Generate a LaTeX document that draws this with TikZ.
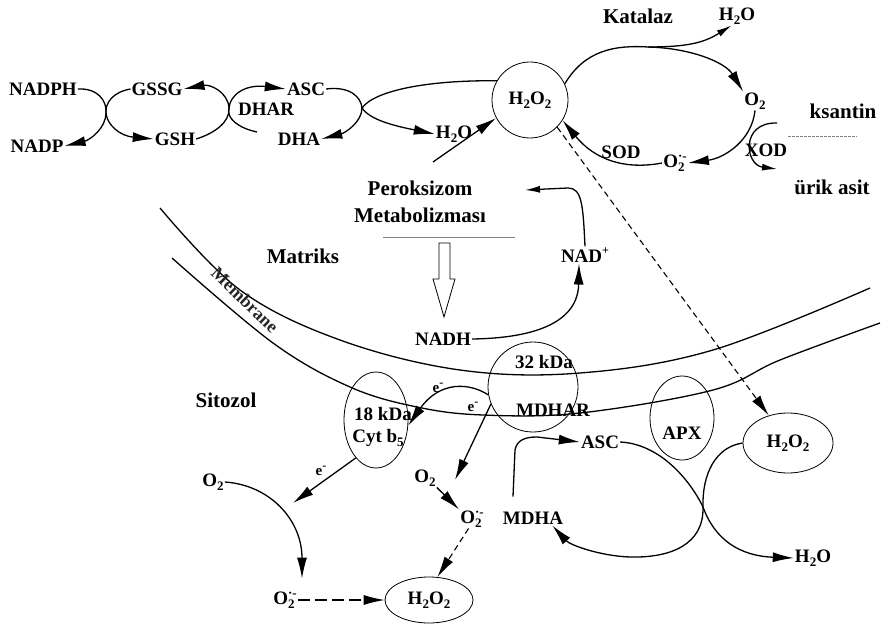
\documentclass[tikz,border=0pt]{standalone}
\usepackage{fontspec}
\setmainfont{Liberation Serif}
\usetikzlibrary{arrows.meta,shapes.geometric}
\newcommand\myLab{\fontsize{19}{21}\selectfont\bfseries}
\newcommand\myBig{\fontsize{21}{23}\selectfont\bfseries}
\newcommand\myE{\fontsize{15}{17}\selectfont\bfseries}
\newcommand\mysb[1]{\raisebox{-0.45ex}{\fontsize{13}{13}\selectfont #1}}
\newcommand\mysp[1]{\raisebox{0.9ex}{\fontsize{12}{12}\selectfont #1}}
\newcommand\mysbsp[2]{\rlap{\raisebox{-0.45ex}{\fontsize{13}{13}\selectfont #1}}\raisebox{0.8ex}{\fontsize{13}{13}\selectfont #2}}
\begin{document}
\begin{tikzpicture}[x=1pt,y=-1pt,
  lab/.style={font=\myLab,inner sep=1pt},
  big/.style={font=\myBig,inner sep=1pt},
  elab/.style={font=\myE,inner sep=0pt},
  conn/.style={line width=1.3pt,-{Latex[length=21pt,width=10pt]}},
  connS/.style={line width=1.3pt,-{Latex[length=15pt,width=7pt]}},
  dashc/.style={line width=1.1pt,dash pattern=on 6pt off 4pt,-{Latex[length=21pt,width=10pt]}},
  mem/.style={line width=1.3pt},
  shp/.style={draw,line width=0.8pt,inner sep=0pt},
  thinl/.style={draw=gray,line width=0.5pt}]
\useasboundingbox (0,0) rectangle (885,628);

% ---------- membrane ----------
\draw[mem] plot[smooth,tension=0.6] coordinates {(160,208) (240,290) (340,340) (460,370) (580,373) (713,350) (870,288)};
\draw[mem] plot[smooth,tension=0.6] coordinates {(172,258) (273,343) (350,387) (417,407) (483,415) (580,413) (713,390) (780,360) (880,323)};
\node[font=\fontsize{18}{20}\selectfont\bfseries,rotate=-44,inner sep=0pt,text=black!85] (membr) at (245,300) {Membrane};

% ---------- big labels ----------
\node[big] (katalaz) at (638,16) {Katalaz};
\node[big] (ksantin) at (843,111) {ksantin};
\node[big] (urik) at (832,187) {ürik asit};
\node[big] (perok) at (420,188) {Peroksizom};
\node[big] (metab) at (420,215) {Metabolizması};
\node[big] (matriks) at (303,256) {Matriks};
\node[big] (sitozol) at (226,400) {Sitozol};

% ---------- top chain ----------
\node[lab] (nadph) at (43,89) {NADPH};
\node[lab] (nadp) at (37,146) {NADP};
\node[lab] (gssg) at (157,89) {GSSG};
\node[lab] (gsh) at (175,139) {GSH};
\node[lab] (dhar) at (266,109) {DHAR};
\node[lab] (asca) at (306,89) {ASC};
\node[lab] (dha) at (299,139) {DHA};
\node[lab] (h2oa) at (454,134) {H\mysb{2}O};
\node[shp,circle,minimum size=76pt,font=\myLab] (h2o2c) at (530,100) {H\mysb{2}O\mysb{2}};
\node[lab] (h2ot) at (737,16) {H\mysb{2}O};
\node[lab] (o2r) at (755,101) {O\mysb{2}};
\node[lab] (sod) at (621,152) {SOD};
\node[lab] (o2s) at (675,163) {O\mysbsp{2}{·-}};
\node[lab] (xod) at (766,150) {XOD};

\coordinate (c1) at (106,113);
\coordinate (c2) at (229,108);
\coordinate (c3) at (362,108);
\coordinate (dharin) at (257,132);
\coordinate (h2oin) at (433,162);
\coordinate (kat) at (648,47);
\coordinate (xs) at (777,123);
\coordinate (xe) at (777,169);
\coordinate (kl1) at (788,136);
\coordinate (kl2) at (857,136);

\draw[conn] (nadph.east) .. controls (97,88) and (107,100) .. (c1) .. controls (106,128) and (90,140) .. (nadp.east);
\draw[conn] (gssg.west) .. controls (113,92) and (105,103) .. (c1) .. controls (107,125) and (120,136) .. (gsh.west);
\draw[conn] (gsh.east) .. controls (215,133) and (230,122) .. (c2) .. controls (228,92) and (210,84) .. (gssg.east);
\draw[conn] (dharin) .. controls (238,128) and (226,118) .. (c2) .. controls (230,95) and (245,84) .. (asca.west);
\draw[conn] (asca.east) .. controls (350,86) and (361,97) .. (c3) .. controls (362,122) and (345,133) .. (dha.east);
\draw[conn] (h2o2c.150) .. controls (430,80) and (375,90) .. (c3) .. controls (370,120) and (395,126) .. (h2oa.west);
\draw[conn] (h2oin) -- (h2o2c.208);
\draw[conn] (h2o2c.25) .. controls (585,50) and (615,45) .. (kat) .. controls (690,48) and (725,62) .. (o2r.north west);
\draw[connS] (kat) .. controls (690,47) and (705,42) .. (h2ot.240);
\draw[conn] (o2r.south) .. controls (752,140) and (725,158) .. (o2s.east);
\draw[conn] (o2s.west) .. controls (625,170) and (595,160) .. (h2o2c.-32);
\draw[connS] (xs) .. controls (740,122) and (745,165) .. (xe);
\draw[thinl,dash pattern=on 3pt off 1pt] (kl1) -- (kl2);

% ---------- matrix ----------
\node[lab] (nadh) at (443,339) {NADH};
\node[lab] (nadplus) at (585,255) {NAD\mysp{+}};
\coordinate (pk) at (525,190);
\coordinate (ml1) at (383,237);
\coordinate (ml2) at (515,237);
\draw[thinl] (ml1) -- (ml2);
\draw[line width=0.8pt] (439,243) -- (439,279) -- (433,279) -- (444,317) -- (455,279) -- (450,279) -- (450,243) -- cycle;
\draw[conn] (nadh.east) .. controls (540,338) and (578,320) .. ([xshift=-6pt]nadplus.south);
\draw[connS] (nadplus.north) .. controls (583,205) and (582,188) .. (568,188) -- (pk);

% ---------- cytosol ----------
\node[shp,circle,minimum size=90pt] (mdharc) at (533,387) {};
\node[lab] (kda32) at (544,362) {32 kDa};
\node[lab] (mdhar) at (553,410) {MDHAR};
\node[shp,ellipse,minimum width=64pt,minimum height=96pt] (cyt) at (376,420) {};
\node[lab] (kda18) at (383,414) {18 kDa};
\node[lab] (cytb) at (378,438) {Cyt b\mysb{5}};
\node[elab] (e1) at (438,388) {e\mysp{-}};
\node[elab] (e2) at (473,407) {e\mysp{-}};
\node[elab] (e3) at (321,471) {e\mysp{-}};
\node[lab] (o2m) at (425,478) {O\mysb{2}};
\node[lab] (o2sm) at (472,519) {O\mysbsp{2}{·-}};
\node[lab] (mdha) at (533,518) {MDHA};
\node[lab] (ascb) at (600,442) {ASC};
\node[shp,ellipse,minimum width=64pt,minimum height=84pt] (apxe) at (682,418) {};
\node[lab] (apx) at (682,433) {APX};
\node[shp,ellipse,minimum width=90pt,minimum height=60pt,font=\myLab] (h2o2r) at (788,443) {H\mysb{2}O\mysb{2}};
\node[lab] (h2ob) at (813,558) {H\mysb{2}O};
\node[lab] (o2l) at (213,482) {O\mysb{2}};
\node[lab] (o2sl) at (285,600) {O\mysbsp{2}{·-}};
\node[shp,ellipse,minimum width=88pt,minimum height=46pt,font=\myLab] (h2o2b) at (429,600) {H\mysb{2}O\mysb{2}};

\coordinate (eb) at (455,480);
\coordinate (el) at (293,503);
\coordinate (c5) at (703,507);

\draw[dashc] (h2o2c.-45) -- (h2o2r.125);
\draw[conn] (mdharc.190) .. controls (470,383) and (440,380) .. (cyt.-10);
\draw[conn] (mdharc.202) -- (eb);
\draw[conn] (cyt.242) -- (el);
\draw[conn] (o2m.south east) -- (o2sm.north west);
\draw[dashc] (o2sm.250) -- (h2o2b.70);
\draw[conn] (o2l.east) .. controls (270,485) and (302,520) .. ([xshift=17pt,yshift=12pt]o2sl.north);
\draw[dashc,dash pattern=on 12pt off 5pt] (o2sl.east) -- (h2o2b.west);
\draw[conn] ([xshift=-20pt,yshift=14pt]mdha.north) -- (515,450) .. controls (517,440) and (525,437) .. (537,437) -- (ascb.west);
\draw[conn] (ascb.east) .. controls (660,444) and (690,480) .. (c5) .. controls (715,540) and (740,556) .. (h2ob.west);
\draw[conn] (h2o2r.west) .. controls (715,447) and (702,475) .. (c5) .. controls (704,545) and (670,558) .. (630,557) .. controls (600,556) and (570,545) .. ([xshift=-12pt]mdha.south east);
\end{tikzpicture}
\end{document}
